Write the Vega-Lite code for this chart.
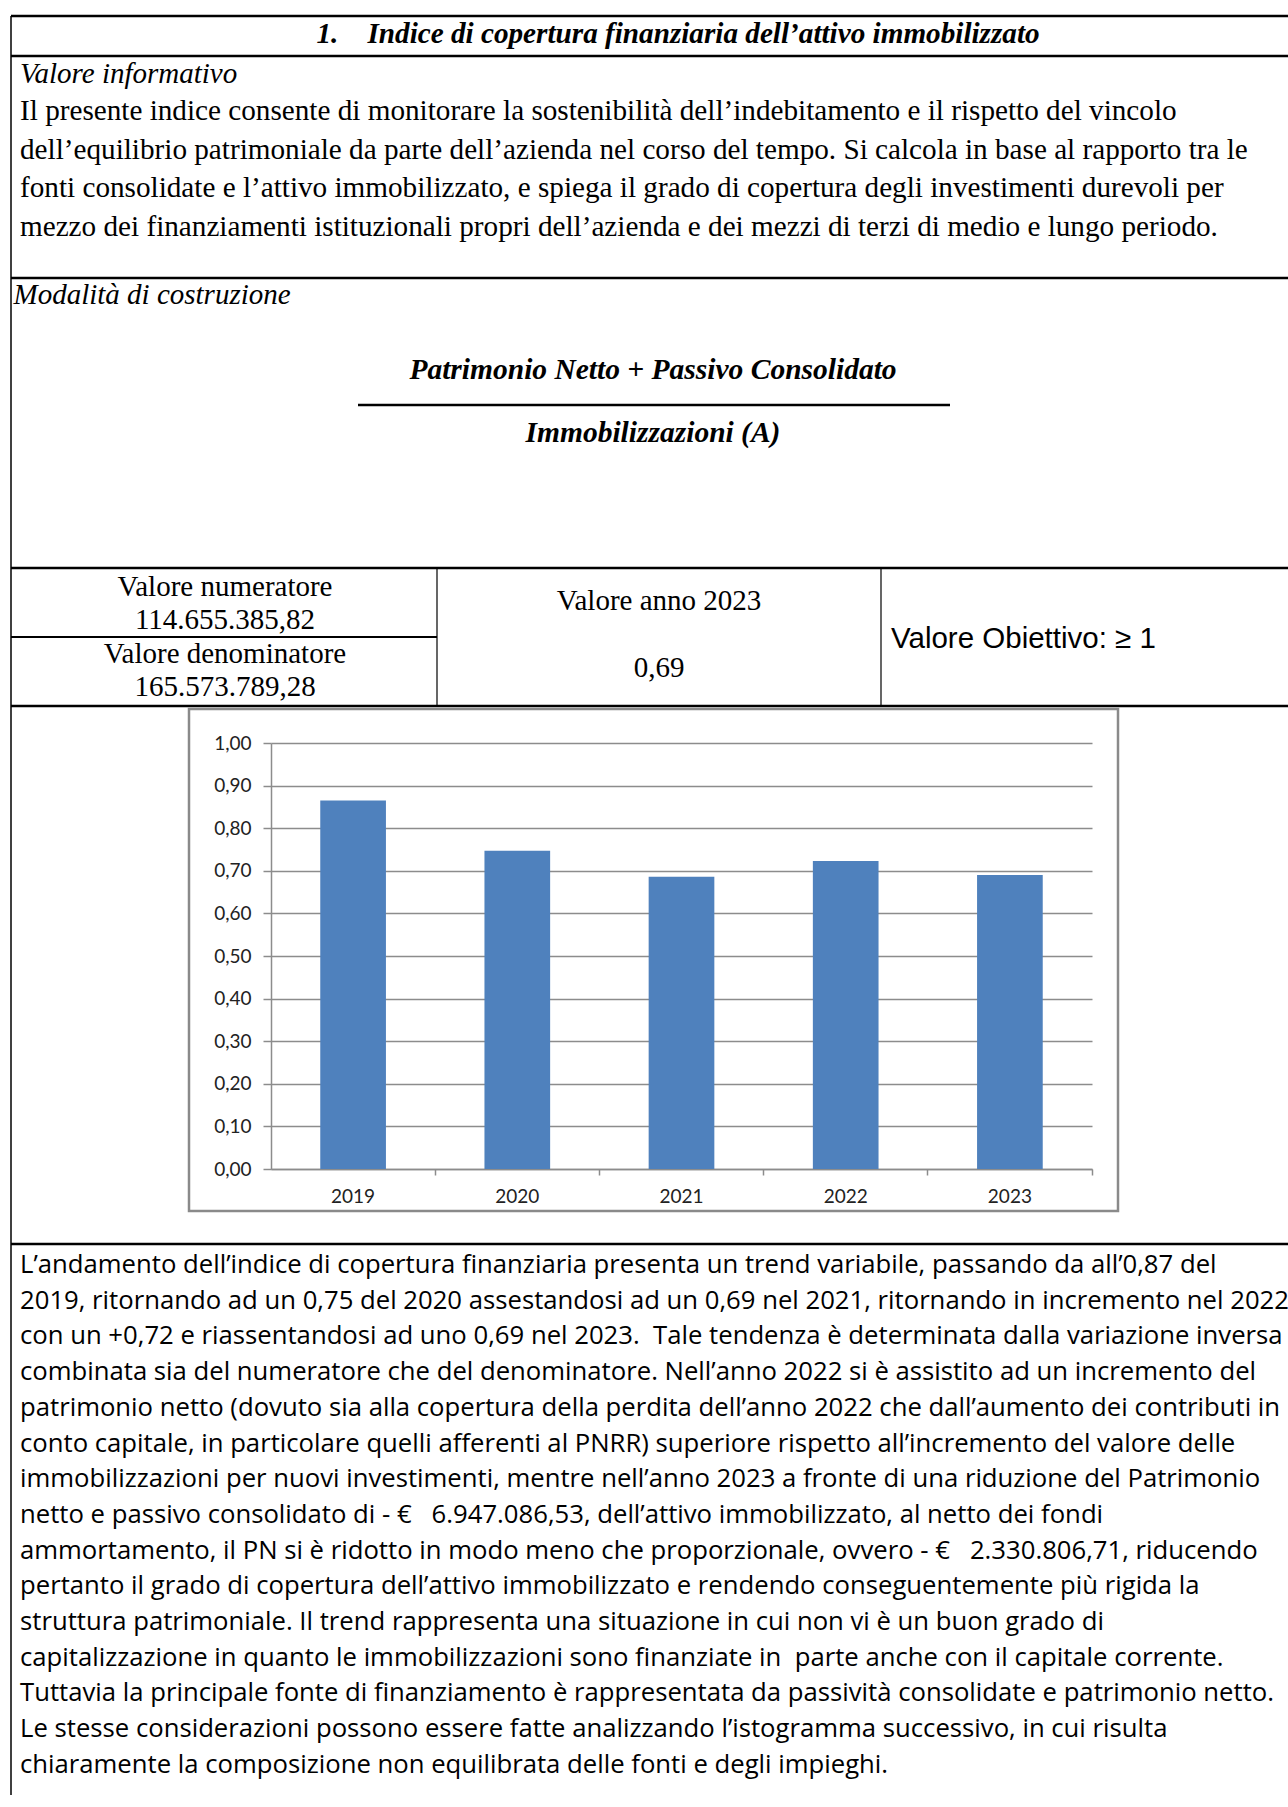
{
  "$schema": "https://vega.github.io/schema/vega-lite/v6.json",
  "padding": {"left": 9, "top": 14, "right": 0, "bottom": 0},
  "background": "white",
  "spacing": 0,
  "bounds": "flush",
  "data": {"values": [{"elemento": "bordo"}]},
  "config": {
    "view": {"stroke": null},
    "text": {"font": "Liberation Serif", "fontSize": 29, "color": "#000000", "baseline": "alphabetic"}
  },
  "vconcat": [
    {
      "width": 1278, "height": 40,
      "layer": [
        {"mark": {"type": "rule", "color": "#000", "strokeWidth": 2.5}, "encoding": {"x": {"value": 0}, "x2": {"value": 1278}, "y": {"value": 0}}},
        {"mark": {"type": "rule", "color": "#000", "strokeWidth": 1.5}, "encoding": {"x": {"value": 0}, "y": {"value": 0}, "y2": {"value": 40}}},
        {
          "data": {"values": [{"testo": "1.\u00a0\u00a0\u00a0\u00a0Indice di copertura finanziaria dell’attivo immobilizzato"}]},
          "mark": {"type": "text", "fontSize": 29.2, "fontStyle": "italic", "fontWeight": "bold", "align": "center"},
          "encoding": {"text": {"field": "testo"}, "x": {"value": 667}, "y": {"value": 27}}
        }
      ]
    },
    {
      "width": 1278, "height": 222,
      "layer": [
        {"mark": {"type": "rule", "color": "#000", "strokeWidth": 2.5}, "encoding": {"x": {"value": 0}, "x2": {"value": 1278}, "y": {"value": 0}}},
        {"mark": {"type": "rule", "color": "#000", "strokeWidth": 1.5}, "encoding": {"x": {"value": 0}, "y": {"value": 0}, "y2": {"value": 222}}},
        {
          "data": {"values": [{"testo": "Valore informativo"}]},
          "mark": {"type": "text", "fontStyle": "italic", "align": "left"},
          "encoding": {"text": {"field": "testo"}, "x": {"value": 9}, "y": {"value": 27}}
        },
        {
          "data": {"values": [
            {"riga": 1, "testo": "Il presente indice consente di monitorare la sostenibilità dell’indebitamento e il rispetto del vincolo"},
            {"riga": 2, "testo": "dell’equilibrio patrimoniale da parte dell’azienda nel corso del tempo. Si calcola in base al rapporto tra le"},
            {"riga": 3, "testo": "fonti consolidate e l’attivo immobilizzato, e spiega il grado di copertura degli investimenti durevoli per"},
            {"riga": 4, "testo": "mezzo dei finanziamenti istituzionali propri dell’azienda e dei mezzi di terzi di medio e lungo periodo."}
          ]},
          "mark": {"type": "text", "align": "left", "fontSize": 29.2},
          "encoding": {
            "text": {"field": "testo"},
            "x": {"value": 9},
            "y": {"field": "riga", "type": "quantitative", "scale": {"domain": [1, 4], "range": [64, 180]}, "axis": null}
          }
        }
      ]
    },
    {
      "width": 1278, "height": 290,
      "layer": [
        {"mark": {"type": "rule", "color": "#000", "strokeWidth": 2.5}, "encoding": {"x": {"value": 0}, "x2": {"value": 1278}, "y": {"value": 0}}},
        {"mark": {"type": "rule", "color": "#000", "strokeWidth": 1.5}, "encoding": {"x": {"value": 0}, "y": {"value": 0}, "y2": {"value": 290}}},
        {
          "data": {"values": [{"testo": "Modalità di costruzione"}]},
          "mark": {"type": "text", "fontStyle": "italic", "align": "left"},
          "encoding": {"text": {"field": "testo"}, "x": {"value": 2.5}, "y": {"value": 26}}
        },
        {
          "data": {"values": [{"testo": "Patrimonio Netto + Passivo Consolidato"}]},
          "mark": {"type": "text", "fontStyle": "italic", "fontWeight": "bold", "fontSize": 29.5, "align": "center"},
          "encoding": {"text": {"field": "testo"}, "x": {"value": 642}, "y": {"value": 101}}
        },
        {"mark": {"type": "rule", "color": "#000", "strokeWidth": 2.5}, "encoding": {"x": {"value": 347}, "x2": {"value": 939}, "y": {"value": 127}}},
        {
          "data": {"values": [{"testo": "Immobilizzazioni (A)"}]},
          "mark": {"type": "text", "fontStyle": "italic", "fontWeight": "bold", "fontSize": 29.5, "align": "center"},
          "encoding": {"text": {"field": "testo"}, "x": {"value": 642}, "y": {"value": 164}}
        }
      ]
    },
    {
      "width": 1278, "height": 138,
      "resolve": {"scale": {"y": "independent"}},
      "layer": [
        {"mark": {"type": "rule", "color": "#000", "strokeWidth": 2.5}, "encoding": {"x": {"value": 0}, "x2": {"value": 1278}, "y": {"value": 0}}},
        {"mark": {"type": "rule", "color": "#000", "strokeWidth": 1.5}, "encoding": {"x": {"value": 0}, "y": {"value": 0}, "y2": {"value": 138}}},
        {"mark": {"type": "rule", "color": "#000", "strokeWidth": 1.2}, "encoding": {"x": {"value": 426}, "y": {"value": 0}, "y2": {"value": 138}}},
        {"mark": {"type": "rule", "color": "#000", "strokeWidth": 1.2}, "encoding": {"x": {"value": 870}, "y": {"value": 0}, "y2": {"value": 138}}},
        {"mark": {"type": "rule", "color": "#000", "strokeWidth": 2.2}, "encoding": {"x": {"value": 0}, "x2": {"value": 426}, "y": {"value": 69}}},
        {
          "data": {"values": [
            {"riga": 1, "testo": "Valore numeratore"},
            {"riga": 2, "testo": "114.655.385,82"},
            {"riga": 3, "testo": "Valore denominatore"},
            {"riga": 4, "testo": "165.573.789,28"}
          ]},
          "mark": {"type": "text", "align": "center"},
          "encoding": {
            "text": {"field": "testo"},
            "x": {"value": 214},
            "y": {"field": "riga", "type": "quantitative", "scale": {"domain": [1, 4], "range": [28, 128]}, "axis": null}
          }
        },
        {
          "data": {"values": [
            {"riga": 1, "testo": "Valore anno 2023"},
            {"riga": 2, "testo": "0,69"}
          ]},
          "mark": {"type": "text", "align": "center"},
          "encoding": {
            "text": {"field": "testo"},
            "x": {"value": 648},
            "y": {"field": "riga", "type": "quantitative", "scale": {"domain": [1, 2], "range": [42, 109]}, "axis": null}
          }
        },
        {
          "data": {"values": [{"testo": "Valore Obiettivo: ≥ 1"}]},
          "mark": {"type": "text", "align": "left", "font": "Liberation Sans", "fontSize": 29.5},
          "encoding": {"text": {"field": "testo"}, "x": {"value": 880}, "y": {"value": 80}}
        }
      ]
    },
    {
      "width": 1278, "height": 538,
      "layer": [
        {"mark": {"type": "rule", "color": "#000", "strokeWidth": 2.5}, "encoding": {"x": {"value": 0}, "x2": {"value": 1278}, "y": {"value": 0}}},
        {"mark": {"type": "rule", "color": "#000", "strokeWidth": 1.5}, "encoding": {"x": {"value": 0}, "y": {"value": 0}, "y2": {"value": 538}}},
        {"mark": {"type": "rect", "fill": "transparent", "stroke": "#8a8a8a", "strokeWidth": 2.5}, "encoding": {"x": {"value": 178}, "x2": {"value": 1107}, "y": {"value": 3}, "y2": {"value": 505}}},
        {
          "data": {"values": [
            {"anno": "2019", "valore": 0.865},
            {"anno": "2020", "valore": 0.747},
            {"anno": "2021", "valore": 0.686},
            {"anno": "2022", "valore": 0.723},
            {"anno": "2023", "valore": 0.690}
          ]},
          "mark": {"type": "bar", "color": "#4F81BD"},
          "encoding": {
            "x": {
              "field": "anno", "type": "ordinal", "sort": null,
              "scale": {"paddingInner": 0.6, "paddingOuter": 0.3, "range": [260, 1081]},
              "axis": {
                "title": null, "offset": -75, "labelAngle": 0, "bandPosition": 1.75,
                "tickSize": 6, "tickWidth": 1.5, "tickColor": "#8c8c8c",
                "domainColor": "#8c8c8c", "domainWidth": 1.5,
                "labelFont": "Lato", "labelFontSize": 19, "labelColor": "#222222", "labelPadding": 12
              }
            },
            "y": {
              "field": "valore", "type": "quantitative",
              "scale": {"domain": [0, 1], "range": [463, 37], "nice": false},
              "axis": {
                "title": null, "offset": -260,
                "values": [0, 0.1, 0.2, 0.3, 0.4, 0.5, 0.6, 0.7, 0.8, 0.9, 1],
                "labelExpr": "replace(format(datum.value, '.2f'), '.', ',')",
                "grid": true, "gridColor": "#8c8c8c", "gridWidth": 1.5,
                "domainColor": "#8c8c8c", "domainWidth": 1.5,
                "tickColor": "#8c8c8c", "tickSize": 8, "tickWidth": 1.5,
                "labelFont": "Lato", "labelFontSize": 19, "labelColor": "#222222", "labelPadding": 12
              }
            }
          }
        }
      ]
    },
    {
      "width": 1278, "height": 551,
      "layer": [
        {"mark": {"type": "rule", "color": "#000", "strokeWidth": 2.5}, "encoding": {"x": {"value": 0}, "x2": {"value": 1278}, "y": {"value": 0}}},
        {"mark": {"type": "rule", "color": "#000", "strokeWidth": 1.5}, "encoding": {"x": {"value": 0}, "y": {"value": 0}, "y2": {"value": 551}}},
        {
          "data": {"values": [
            {"riga": 1, "testo": "L’andamento dell’indice di copertura finanziaria presenta un trend variabile, passando da all’0,87 del"},
            {"riga": 2, "testo": "2019, ritornando ad un 0,75 del 2020 assestandosi ad un 0,69 nel 2021, ritornando in incremento nel 2022"},
            {"riga": 3, "testo": "con un +0,72 e riassentandosi ad uno 0,69 nel 2023.\u00a0 Tale tendenza è determinata dalla variazione inversa"},
            {"riga": 4, "testo": "combinata sia del numeratore che del denominatore. Nell’anno 2022 si è assistito ad un incremento del"},
            {"riga": 5, "testo": "patrimonio netto (dovuto sia alla copertura della perdita dell’anno 2022 che dall’aumento dei contributi in"},
            {"riga": 6, "testo": "conto capitale, in particolare quelli afferenti al PNRR) superiore rispetto all’incremento del valore delle"},
            {"riga": 7, "testo": "immobilizzazioni per nuovi investimenti, mentre nell’anno 2023 a fronte di una riduzione del Patrimonio"},
            {"riga": 8, "testo": "netto e passivo consolidato di - €\u00a0\u00a0 6.947.086,53, dell’attivo immobilizzato, al netto dei fondi"},
            {"riga": 9, "testo": "ammortamento, il PN si è ridotto in modo meno che proporzionale, ovvero - €\u00a0\u00a0 2.330.806,71, riducendo"},
            {"riga": 10, "testo": "pertanto il grado di copertura dell’attivo immobilizzato e rendendo conseguentemente più rigida la"},
            {"riga": 11, "testo": "struttura patrimoniale. Il trend rappresenta una situazione in cui non vi è un buon grado di"},
            {"riga": 12, "testo": "capitalizzazione in quanto le immobilizzazioni sono finanziate in\u00a0 parte anche con il capitale corrente."},
            {"riga": 13, "testo": "Tuttavia la principale fonte di finanziamento è rappresentata da passività consolidate e patrimonio netto."},
            {"riga": 14, "testo": "Le stesse considerazioni possono essere fatte analizzando l’istogramma successivo, in cui risulta"},
            {"riga": 15, "testo": "chiaramente la composizione non equilibrata delle fonti e degli impieghi."}
          ]},
          "mark": {"type": "text", "align": "left", "font": "Open Sans", "fontSize": 25.7},
          "encoding": {
            "text": {"field": "testo"},
            "x": {"value": 9},
            "y": {"field": "riga", "type": "quantitative", "scale": {"domain": [1, 15], "range": [29, 528.8]}, "axis": null}
          }
        }
      ]
    }
  ]
}
